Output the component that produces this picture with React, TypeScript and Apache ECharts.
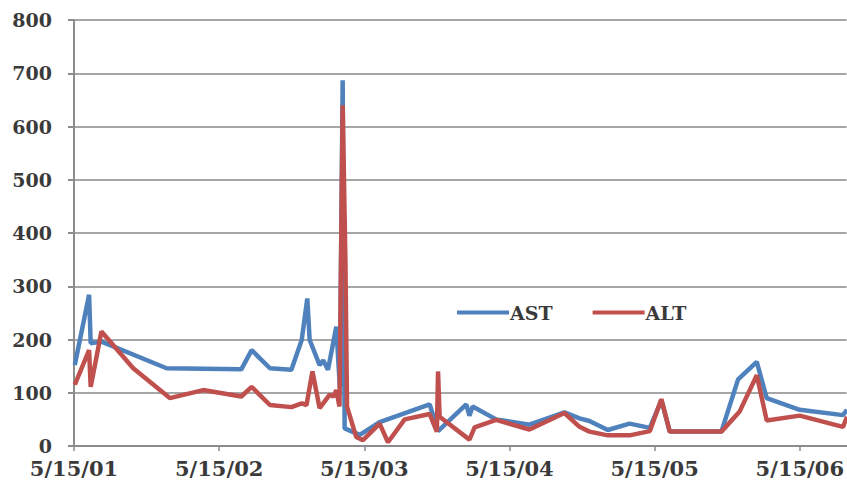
import React, { useEffect, useRef } from "react";
import * as echarts from "echarts";

const yTickValues = [0, 100, 200, 300, 400, 500, 600, 700, 800];
const xTickLabels = ["5/15/01", "5/15/02", "5/15/03", "5/15/04", "5/15/05", "5/15/06"];

const astDates = [
  "2001-05-17", "2001-06-22", "2001-06-26", "2001-07-23", "2002-01-03", "2002-07-10",
  "2002-08-05", "2002-09-20", "2002-11-13", "2002-12-09", "2002-12-23", "2002-12-29",
  "2003-01-23", "2003-02-01", "2003-02-13", "2003-03-06", "2003-03-15", "2003-03-22",
  "2003-03-27", "2003-05-04", "2003-06-23", "2003-10-27", "2003-11-17", "2004-01-27",
  "2004-02-04", "2004-02-12", "2004-04-11", "2004-07-04", "2004-09-30", "2004-11-07",
  "2004-12-02", "2005-01-17", "2005-03-13", "2005-05-03", "2005-06-01", "2005-06-22",
  "2005-10-30", "2005-12-11", "2006-01-27", "2006-02-21", "2006-05-15", "2006-09-01",
  "2006-09-11",
];
const astValues = [
  152, 284, 193, 196, 146, 144,
  180, 146, 143, 199, 277, 199,
  152, 161, 143, 224, 110, 687,
  33, 21, 45, 78, 28, 78,
  57, 74, 50, 40, 63, 52,
  47, 30, 42, 34, 86, 27,
  27, 125, 158, 90, 68, 58,
  68,
];

const altDates = [
  "2001-05-17", "2001-06-22", "2001-06-26", "2001-07-23", "2001-10-11", "2002-01-11",
  "2002-04-05", "2002-07-10", "2002-08-05", "2002-09-20", "2002-11-13", "2002-12-09",
  "2002-12-21", "2003-01-05", "2003-01-23", "2003-02-17", "2003-02-27", "2003-03-06",
  "2003-03-14", "2003-03-22", "2003-03-29", "2003-04-02", "2003-04-25", "2003-05-12",
  "2003-06-23", "2003-07-14", "2003-08-25", "2003-10-27", "2003-11-14", "2003-11-17",
  "2003-11-21", "2004-02-04", "2004-02-17", "2004-04-11", "2004-07-04", "2004-09-30",
  "2004-11-07", "2004-12-02", "2005-01-17", "2005-03-13", "2005-05-03", "2005-06-01",
  "2005-06-22", "2005-10-30", "2005-12-15", "2006-01-27", "2006-02-21", "2006-05-15",
  "2006-09-01", "2006-09-11",
];
const altValues = [
  115, 180, 111, 215, 146, 90,
  105, 93, 111, 77, 73, 80,
  77, 140, 71, 96, 93, 105,
  74, 640, 344, 74, 17, 11,
  42, 7, 50, 60, 27, 140,
  55, 12, 35, 49, 31, 62,
  36, 27, 20, 20, 28, 88,
  27, 27, 65, 133, 48, 57,
  36, 55,
];

const DAY = 86400000;
const xMin = Date.UTC(2001, 4, 15);
const xMax = xMin + 1944 * DAY;
const yearInterval = 365.25 * DAY;

const toPoints = (dates: string[], vals: number[]) =>
  dates.map((d, i) => [Date.parse(d + "T00:00:00Z"), vals[i]]);

const FONT = "DejaVu Serif";
const TEXT = "#3a3a3a";

export default function App() {
  const ref = useRef<HTMLDivElement>(null);
  useEffect(() => {
    if (!ref.current) return;
    const chart = echarts.init(ref.current, undefined, { renderer: "svg" });
    chart.setOption({
      animation: false,
      backgroundColor: "#ffffff",
      grid: { left: 74, right: 0, top: 20, bottom: 47, containLabel: false },
      legend: {
        left: 452,
        top: 298,
        icon: "rect",
        itemWidth: 52,
        itemHeight: 4,
        itemGap: 40,
        textStyle: {
          fontFamily: FONT,
          fontSize: 19,
          fontWeight: "bold",
          color: TEXT,
          padding: [0, 0, 0, -4],
        },
        data: ["AST", "ALT"],
      },
      xAxis: {
        type: "value",
        min: xMin,
        max: xMax,
        interval: yearInterval,
        axisLine: { show: true, lineStyle: { color: "#8c8c8c", width: 2 } },
        axisTick: { show: true, length: 5, lineStyle: { color: "#8c8c8c", width: 1.5 } },
        splitLine: { show: false },
        axisLabel: {
          showMaxLabel: false,
          margin: 12,
          fontFamily: FONT,
          fontSize: 21,
          fontWeight: "bold",
          color: TEXT,
          formatter: (_v: number, i: number) => xTickLabels[i] ?? "",
        },
      },
      yAxis: {
        type: "value",
        min: yTickValues[0],
        max: yTickValues[yTickValues.length - 1],
        interval: 100,
        axisLine: { show: true, lineStyle: { color: "#8c8c8c", width: 2 } },
        axisTick: { show: true, length: 6, lineStyle: { color: "#8c8c8c", width: 2 } },
        splitLine: { show: true, lineStyle: { color: "#a6a6a6", width: 2 } },
        axisLabel: {
          margin: 22,
          fontFamily: FONT,
          fontSize: 19,
          fontWeight: "bold",
          color: TEXT,
        },
      },
      series: [
        {
          name: "AST",
          type: "line",
          data: toPoints(astDates, astValues),
          showSymbol: false,
          color: "#4F81BD",
          lineStyle: { width: 4.5, color: "#4F81BD" },
          z: 2,
        },
        {
          name: "ALT",
          type: "line",
          data: toPoints(altDates, altValues),
          showSymbol: false,
          color: "#C0504D",
          lineStyle: { width: 4.5, color: "#C0504D" },
          z: 3,
        },
      ],
    });
    return () => chart.dispose();
  }, []);
  return (
    <div
      ref={ref}
      style={{ position: "fixed", left: 0, top: 0, width: 847, height: 493 }}
    />
  );
}
